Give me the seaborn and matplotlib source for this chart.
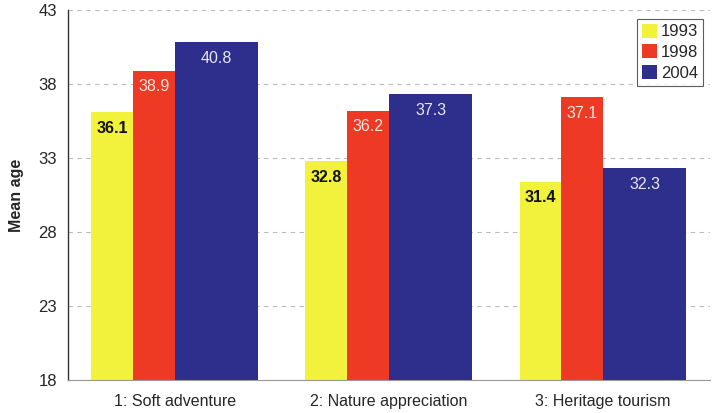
import matplotlib
matplotlib.use("Agg")
import matplotlib.pyplot as plt
import seaborn as sns
import pandas as pd
from matplotlib.patches import Patch

categories = ["1: Soft adventure", "2: Nature appreciation", "3: Heritage tourism"]
years = ["1993", "1998", "2004"]
values_1993 = [36.1, 32.8, 31.4]
values_1998 = [38.9, 36.2, 37.1]
values_2004 = [40.8, 37.3, 32.3]
yticks = [18, 23, 28, 33, 38, 43]

colors = ["#f2f23c", "#ee3a24", "#2e2e8c"]
label_colors = ["#111111", "#f4e8e0", "#e8e8f4"]
label_weights = ["bold", "normal", "normal"]
# bar spans relative to category centre
spans = [(-0.39, -0.195), (-0.195, 0.0), (0.0, 0.39)]

rows = []
for yr, vals in zip(years, [values_1993, values_1998, values_2004]):
    for c, v in zip(categories, vals):
        rows.append({"category": c, "year": yr, "value": v})
df = pd.DataFrame(rows)

sns.set_style("white")
plt.rcParams["font.family"] = ["Liberation Sans", "DejaVu Sans"]

fig = plt.figure(figsize=(7.15, 4.13), dpi=100)
ax = fig.add_axes([0.095, 0.080, 0.898, 0.896])

sns.barplot(data=df, x="category", y="value", hue="year", palette=colors,
            order=categories, hue_order=years, ax=ax, legend=False,
            saturation=1, linewidth=0, errorbar=None)

for i, cont in enumerate(ax.containers):
    for j, bar in enumerate(cont.patches):
        x0, x1 = spans[i]
        bar.set_x(j + x0)
        bar.set_width(x1 - x0)
        v = bar.get_height()
        ax.text(j + (x0 + x1) / 2, v - 1.1, f"{v:.1f}", ha="center", va="center",
                fontsize=11.5, color=label_colors[i], fontweight=label_weights[i])

ax.set_xlim(-0.5, 2.5)
ax.set_ylim(18, 43)
ax.set_yticks(yticks)
ax.set_yticklabels([str(t) for t in yticks], fontsize=12)
ax.tick_params(axis="x", labelsize=11.5, length=0, pad=10)
ax.tick_params(axis="y", length=0, pad=8)
ax.set_xlabel("")
ax.set_ylabel("Mean age", fontsize=11.5, fontweight="bold", labelpad=10)

ax.yaxis.grid(True, linestyle=(0, (4, 4)), color="#bbbbbb", linewidth=0.8)
ax.set_axisbelow(True)
for s in ["top", "right"]:
    ax.spines[s].set_visible(False)
ax.spines["left"].set_color("#333333")
ax.spines["left"].set_linewidth(1.0)
ax.spines["bottom"].set_color("#999999")
ax.spines["bottom"].set_linewidth(0.8)

handles = [Patch(facecolor=c, edgecolor="none") for c in colors]
leg = ax.legend(handles, years, loc="upper right", bbox_to_anchor=(0.995, 0.985),
                fontsize=12, frameon=True, fancybox=False, handlelength=0.9,
                handleheight=0.9, handletextpad=0.25, borderpad=0.3,
                labelspacing=0.3, borderaxespad=0.2)
leg.get_frame().set_edgecolor("#333333")
leg.get_frame().set_linewidth(0.8)

fig.savefig("out.png", dpi=100)
